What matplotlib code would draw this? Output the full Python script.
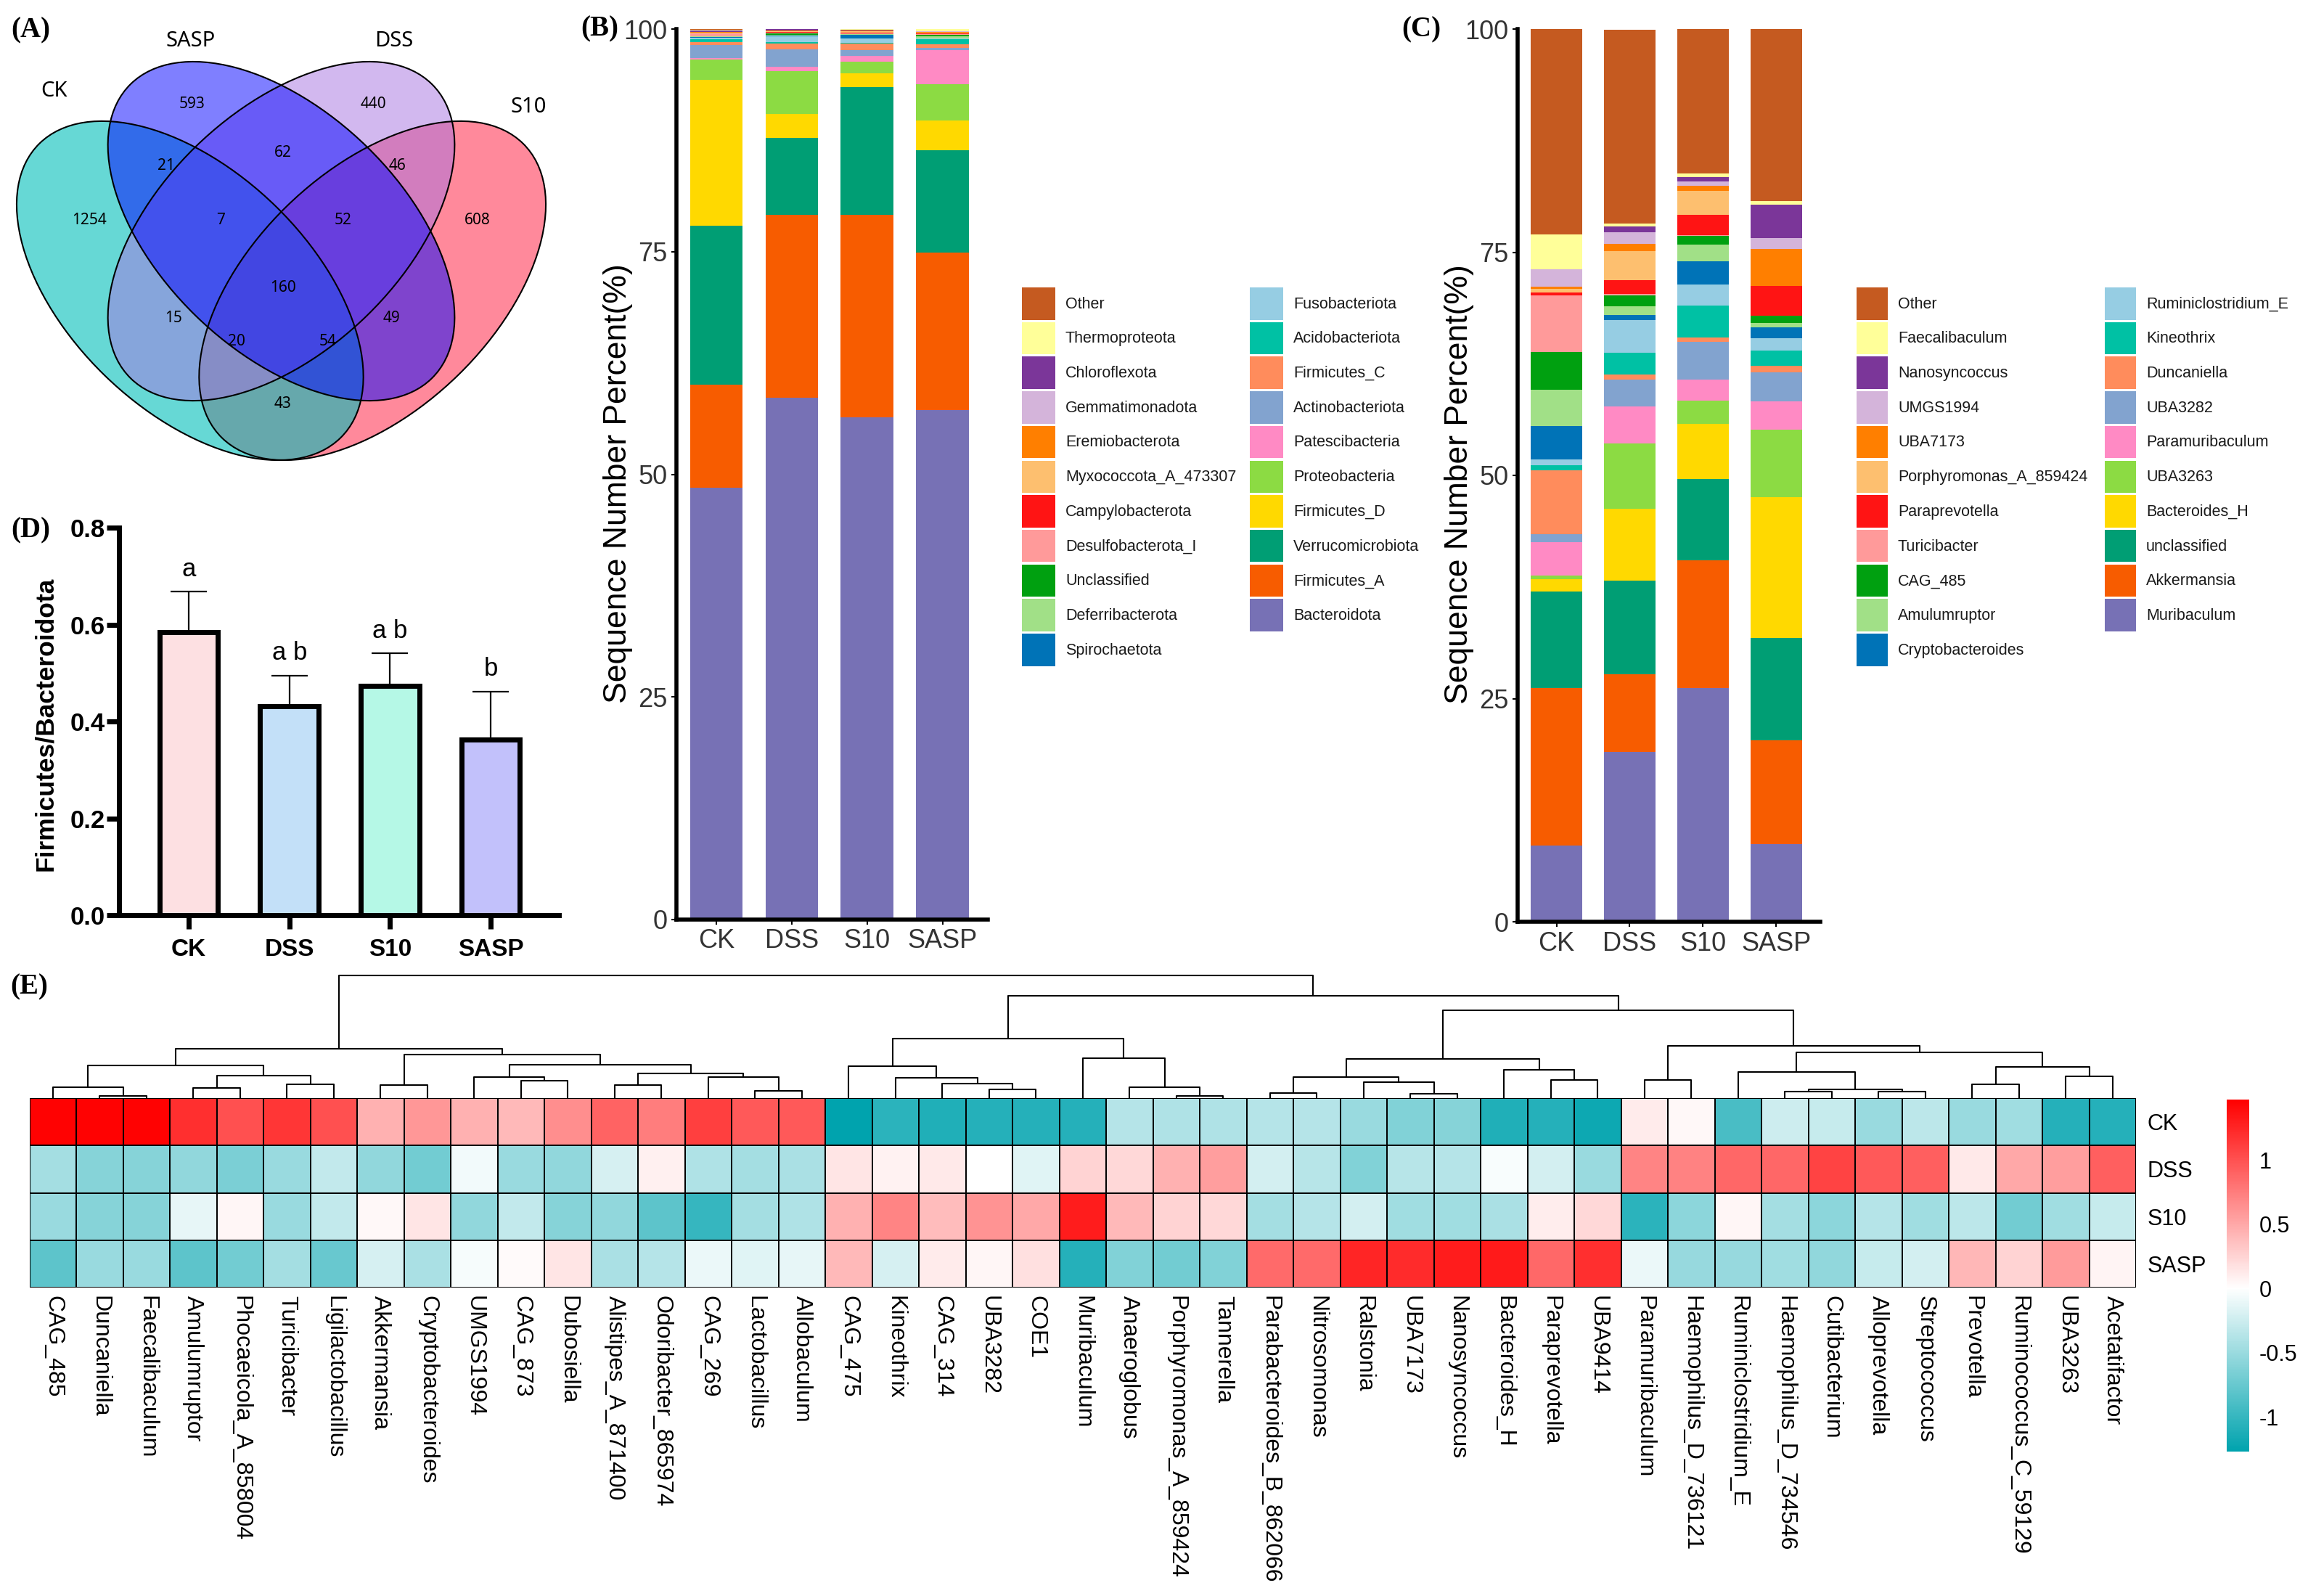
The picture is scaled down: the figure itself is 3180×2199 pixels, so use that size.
import numpy as np
import matplotlib
matplotlib.use("Agg")
import matplotlib.pyplot as plt
from matplotlib.patches import Ellipse, Patch
from matplotlib.colors import LinearSegmentedColormap, Normalize
from matplotlib.cm import ScalarMappable

plt.rcParams['font.family'] = ['Liberation Sans', 'DejaVu Sans']

W, H = 3180, 2199

# ---------------- data ----------------
groups = ['CK', 'DSS', 'S10', 'SASP']

# (A) venn
venn_names = ['CK', 'SASP', 'DSS', 'S10']
venn_counts = [1254, 593, 440, 608, 21, 62, 46, 7, 52, 160, 15, 49, 20, 54, 43]

# (B) phylum level, legend order (top of stack first)
phyla = ['Other', 'Thermoproteota', 'Chloroflexota', 'Gemmatimonadota', 'Eremiobacterota',
         'Myxococcota_A_473307', 'Campylobacterota', 'Desulfobacterota_I', 'Unclassified',
         'Deferribacterota', 'Spirochaetota', 'Fusobacteriota', 'Acidobacteriota', 'Firmicutes_C',
         'Actinobacteriota', 'Patescibacteria', 'Proteobacteria', 'Firmicutes_D',
         'Verrucomicrobiota', 'Firmicutes_A', 'Bacteroidota']
phy_CK = [0.2, 0.05, 0.15, 0.05, 0.05, 0.05, 0.05, 0.3, 0.05, 0.05, 0.05,
          0.2, 0.3, 0.35, 1.5, 0.1, 2.3, 16.4, 17.8, 11.6, 48.5]
phy_DSS = [0.05, 0.05, 0.15, 0.05, 0.05, 0.05, 0.1, 0.05, 0.2, 0.05, 0.1,
           0.7, 0.1, 0.7, 1.9, 0.5, 4.8, 2.7, 8.7, 20.5, 58.6]
phy_S10 = [0.05, 0.15, 0.05, 0.05, 0.05, 0.15, 0.05, 0.1, 0.05, 0.05, 0.4,
           0.5, 0.1, 0.7, 0.7, 0.65, 1.3, 1.5, 14.4, 22.7, 56.4]
phy_SASP = [0.05, 0.2, 0.05, 0.05, 0.05, 0.1, 0.05, 0.15, 0.1, 0.27, 0.05,
            0.05, 0.55, 0.4, 0.3, 3.8, 4.1, 3.3, 11.5, 17.7, 57.2]

# (C) genus level, legend order (top of stack first)
genera = ['Other', 'Faecalibaculum', 'Nanosyncoccus', 'UMGS1994', 'UBA7173',
          'Porphyromonas_A_859424', 'Paraprevotella', 'Turicibacter', 'CAG_485', 'Amulumruptor',
          'Cryptobacteroides', 'Ruminiclostridium_E', 'Kineothrix', 'Duncaniella', 'UBA3282',
          'Paramuribaculum', 'UBA3263', 'Bacteroides_H', 'unclassified', 'Akkermansia', 'Muribaculum']
gen_CK = [23.0, 3.9, 0.05, 1.9, 0.25, 0.45, 0.3, 6.3, 4.25, 4.1, 3.7,
          0.7, 0.5, 7.2, 0.9, 3.7, 0.4, 1.4, 10.8, 17.7, 8.5]
gen_DSS = [21.75, 0.3, 0.65, 1.3, 0.8, 3.25, 1.55, 0.15, 1.25, 0.95, 0.6,
           3.7, 2.4, 0.55, 3.0, 4.2, 7.3, 8.0, 10.5, 8.75, 19.0]
gen_S10 = [16.25, 0.35, 0.5, 0.5, 0.6, 2.7, 2.25, 0.05, 1.0, 1.9, 2.6,
           2.35, 3.55, 0.45, 4.3, 2.3, 2.6, 6.2, 9.1, 14.3, 26.2]
gen_SASP = [19.25, 0.45, 3.7, 1.2, 4.15, 0.05, 3.3, 0.05, 0.8, 0.5, 1.15,
            1.45, 1.65, 0.75, 3.25, 3.2, 7.5, 15.8, 11.5, 11.6, 8.7]

# (D) Firmicutes / Bacteroidota
fb_mean = [0.584, 0.432, 0.474, 0.362]
fb_err = [0.084, 0.063, 0.067, 0.100]
fb_sig = ['a', 'a b', 'a b', 'b']

# (E) heatmap (column z-scores)
taxa = ['CAG_485', 'Duncaniella', 'Faecalibaculum', 'Amulumruptor', 'Phocaeicola_A_858004',
        'Turicibacter', 'Ligilactobacillus', 'Akkermansia', 'Cryptobacteroides', 'UMGS1994',
        'CAG_873', 'Dubosiella', 'Alistipes_A_871400', 'Odoribacter_865974', 'CAG_269',
        'Lactobacillus', 'Allobaculum', 'CAG_475', 'Kineothrix', 'CAG_314', 'UBA3282', 'COE1',
        'Muribaculum', 'Anaeroglobus', 'Porphyromonas_A_859424', 'Tannerella',
        'Parabacteroides_B_862066', 'Nitrosomonas', 'Ralstonia', 'UBA7173', 'Nanosyncoccus',
        'Bacteroides_H', 'Paraprevotella', 'UBA9414', 'Paramuribaculum', 'Haemophilus_D_736121',
        'Ruminiclostridium_E', 'Haemophilus_D_734546', 'Cutibacterium', 'Alloprevotella',
        'Streptococcus', 'Prevotella', 'Ruminococcus_C_59129', 'UBA3263', 'Acetatifactor']
hm_CK = [1.45, 1.45, 1.45, 1.2, 1.0, 1.15, 1.0, 0.45, 0.6, 0.45, 0.4, 0.65, 0.9, 0.75, 1.1, 0.95, 0.95,
         -1.27, -1.05, -1.1, -1.08, -1.08, -1.08, -0.37, -0.4, -0.4, -0.37, -0.37, -0.5, -0.62, -0.6,
         -1.1, -1.08, -1.2,
         0.12, 0.04, -0.9, -0.25, -0.28, -0.5, -0.33, -0.5, -0.47, -1.08, -1.08]
hm_DSS = [-0.45, -0.6, -0.6, -0.55, -0.65, -0.5, -0.3, -0.55, -0.7, -0.07, -0.5, -0.55, -0.2, 0.08,
          -0.4, -0.45, -0.42,
          0.15, 0.07, 0.13, 0.0, -0.15, 0.25, 0.22, 0.45, 0.55, -0.22, -0.35, -0.62, -0.35, -0.37,
          -0.03, -0.22, -0.5,
          0.7, 0.72, 0.88, 0.88, 1.08, 0.95, 0.92, 0.13, 0.5, 0.55, 0.92]
hm_S10 = [-0.5, -0.6, -0.6, -0.12, 0.05, -0.5, -0.3, 0.04, 0.15, -0.55, -0.3, -0.6, -0.55, -0.8,
          -1.0, -0.45, -0.4,
          0.45, 0.7, 0.38, 0.62, 0.5, 1.3, 0.4, 0.25, 0.22, -0.45, -0.37, -0.22, -0.47, -0.47,
          -0.42, 0.1, 0.22,
          -1.05, -0.57, 0.05, -0.45, -0.57, -0.37, -0.47, -0.33, -0.7, -0.47, -0.28]
hm_SASP = [-0.8, -0.5, -0.5, -0.8, -0.7, -0.45, -0.75, -0.2, -0.42, -0.04, 0.03, 0.15, -0.42, -0.37,
           -0.1, -0.15, -0.12,
           0.4, -0.2, 0.12, 0.05, 0.18, -1.08, -0.62, -0.7, -0.62, 0.85, 0.85, 1.25, 1.22, 1.3,
           1.32, 0.87, 1.2,
           -0.1, -0.52, -0.52, -0.47, -0.55, -0.28, -0.22, 0.42, 0.25, 0.58, 0.06]

# column dendrogram: (left, right, height); new clusters numbered from 45 on
merges = [(1, 2, 3), (0, 45, 14.7), (3, 4, 13.7), (5, 6, 18.7), (47, 48, 31.3), (46, 49, 44.7),
          (7, 8, 17.7), (10, 11, 24), (9, 52, 29), (12, 13, 17.7), (15, 16, 10.3), (14, 55, 28.7),
          (54, 56, 33.7), (53, 57, 46.3), (51, 58, 59.7), (50, 59, 68),
          (20, 21, 12.3), (19, 61, 20.3), (18, 62, 28), (17, 63, 43.7), (24, 25, 3), (23, 65, 14.7),
          (22, 66, 55.3), (64, 67, 82),
          (26, 27, 7), (29, 30, 5.7), (28, 70, 22), (69, 71, 28.7), (32, 33, 25.3), (31, 73, 38.7),
          (72, 74, 53.7), (34, 35, 25.3), (37, 38, 8.7), (39, 40, 8.7), (77, 78, 12.3),
          (36, 79, 36.3), (41, 42, 18.7), (43, 44, 30.3), (81, 82, 43), (80, 83, 63),
          (76, 84, 72), (75, 85, 121.3), (68, 86, 140.7), (60, 87, 169)]

palette = ['#C55A20', '#FFFF99', '#7B3699', '#D4B4DA', '#FF7F00', '#FDBF6F', '#FF1414',
           '#FF9A9A', '#00A010', '#A1E087', '#0073B7', '#96CDE3', '#00C1A4', '#FF8C5C',
           '#82A3CF', '#FF8AC4', '#8CDB43', '#FFD900', '#009E74', '#F75C00', '#7771B5']


fig = plt.figure(figsize=(W / 100, H / 100), dpi=100)


def box(x0, y0, x1, y1):
    return [x0 / W, 1 - y1 / H, (x1 - x0) / W, (y1 - y0) / H]


def tag(x, y, s):
    fig.text(x / W, 1 - y / H, s, fontsize=28, fontweight='bold',
             family='Liberation Serif', va='center', ha='left')


# ---------------- (A) venn ----------------
ax = fig.add_axes(box(23, 85, 752, 634))
ax.set_xlim(0.065, 0.935)
ax.set_ylim(0.185, 0.855)
ax.axis('off')
ell = {'CK': (0.35, 0.47, -45, '#00BEB9', 0.6), 'SASP': (0.5, 0.57, -45, '#0000FF', 0.5),
       'DSS': (0.5, 0.57, 45, '#A773E1', 0.5), 'S10': (0.65, 0.47, 45, '#FF1539', 0.5)}
for nm in ['S10', 'CK', 'DSS', 'SASP']:
    x, y, a, c, al = ell[nm]
    ax.add_patch(Ellipse((x, y), 0.7, 0.4, angle=a, facecolor=c, alpha=al,
                         edgecolor='none', clip_on=False))
for nm in venn_names:
    x, y, a, c, al = ell[nm]
    ax.add_patch(Ellipse((x, y), 0.7, 0.4, angle=a, facecolor='none',
                         edgecolor='black', lw=1.5, clip_on=False))
name_xy = [(0.126, 0.806), (0.351, 0.890), (0.685, 0.890), (0.907, 0.779)]
for nm, (x, y) in zip(venn_names, name_xy):
    ax.text(x, y, nm, fontsize=21, family='Noto Sans', ha='center', va='center')
count_xy = [(0.184, 0.588), (0.353, 0.783), (0.652, 0.783), (0.822, 0.588), (0.311, 0.680),
            (0.503, 0.702), (0.691, 0.680), (0.401, 0.588), (0.602, 0.588), (0.503, 0.475),
            (0.323, 0.424), (0.681, 0.424), (0.427, 0.384), (0.577, 0.384), (0.503, 0.280)]
for n, (x, y) in zip(venn_counts, count_xy):
    ax.text(x, y, str(n), fontsize=15, family='Noto Sans', ha='center', va='center')
tag(15, 42, '(A)')


# ---------------- (B) / (C) stacked bars ----------------
def stacked(rect, names, table, ylab_x, leg_x1, leg_x2, sq):
    ax = fig.add_axes(box(*rect))
    x = np.arange(1, 5)
    bottom = np.zeros(4)
    for i in range(len(names) - 1, -1, -1):
        v = np.array([table[g][i] for g in groups])
        ax.bar(x, v, 0.7, bottom=bottom, color=palette[i], linewidth=0)
        bottom += v
    ax.set_xlim(0.47, 4.6)
    ax.set_ylim(0, 100)
    ax.set_yticks([0, 25, 50, 75, 100])
    ax.set_xticks(x)
    ax.set_xticklabels(groups)
    for s in ['top', 'right']:
        ax.spines[s].set_visible(False)
    for s in ['left', 'bottom']:
        ax.spines[s].set_linewidth(4)
    ax.tick_params(labelsize=26, labelcolor='#333333', length=5, width=1.5, pad=4)
    ax.set_ylabel('Sequence Number Percent(%)', fontsize=32)
    ax.yaxis.set_label_coords(ylab_x, 0.49)
    fs = 15.5
    fpx = fs * 100 / 72
    # legend patch height = fs * (0.65 * handleheight + 0.245)
    hh = (44.5 / fpx - 0.245) / 0.65
    for idx, lx in ((range(0, 11), leg_x1), (range(11, len(names)), leg_x2)):
        hd = [Patch(facecolor=palette[i], label=names[i]) for i in idx]
        fig.legend(handles=hd, loc='upper left', bbox_to_anchor=(lx / W, 1 - 396 / H),
                   frameon=False, borderpad=0, borderaxespad=0, fontsize=fs,
                   handlelength=sq / fpx, handleheight=hh,
                   labelspacing=3.2 / fpx, handletextpad=0.65, labelcolor='#1A1A1A')
    return ax


phy_table = {'CK': phy_CK, 'DSS': phy_DSS, 'S10': phy_S10, 'SASP': phy_SASP}
gen_table = {'CK': gen_CK, 'DSS': gen_DSS, 'S10': gen_S10, 'SASP': gen_SASP}
stacked((932, 40, 1361, 1267), phyla, phy_table, -0.139, 1408, 1722, 46)
stacked((2091, 40, 2508, 1270), genera, gen_table, -0.144, 2558, 2900, 43)
tag(800, 40, '(B)')
tag(1931, 41, '(C)')

# ---------------- (D) F/B ratio ----------------
ax = fig.add_axes(box(164, 727, 770, 1261))
xd = np.arange(4)
ax.errorbar(xd, fb_mean, yerr=[np.zeros(4), fb_err], fmt='none', ecolor='black',
            elinewidth=1.6, capsize=18, capthick=1.6, zorder=1)
ax.bar(xd, fb_mean, 0.58, color=['#FDE0E2', '#C3E0F8', '#B5F8E6', '#C2C1FB'],
       edgecolor='black', linewidth=5, zorder=2)
for i in range(4):
    ax.text(xd[i], fb_mean[i] + fb_err[i] + 0.032, fb_sig[i], ha='center', va='baseline',
            fontsize=25)
ax.set_xlim(-0.692, 3.677)
ax.set_ylim(0, 0.8)
ax.set_yticks([0, 0.2, 0.4, 0.6, 0.8])
ax.set_yticklabels(['0.0', '0.2', '0.4', '0.6', '0.8'])
ax.set_xticks(xd)
ax.set_xticklabels(groups)
for s in ['top', 'right']:
    ax.spines[s].set_visible(False)
for s in ['left', 'bottom']:
    ax.spines[s].set_linewidth(5)
ax.tick_params(axis='y', length=12, width=5, pad=2, labelsize=25)
ax.tick_params(axis='x', length=14, width=5, pad=9, labelsize=24)
for t in ax.get_xticklabels() + ax.get_yticklabels():
    t.set_fontweight('bold')
ax.set_ylabel('Firmicutes/Bacteroidota', fontsize=25.5, fontweight='bold')
ax.yaxis.set_label_coords(-0.14, 0.494)
tag(15, 731, '(D)')

# ---------------- (E) heatmap ----------------
n = len(taxa)
hm = np.array([hm_CK, hm_DSS, hm_S10, hm_SASP])
cmap = LinearSegmentedColormap.from_list('tw', [(0, '#00A3AE'), (1.27 / 2.74, '#FFFFFF'),
                                                (1, '#FF0000')])
norm = Normalize(-1.27, 1.47)

axd = fig.add_axes(box(40.7, 1344, 2943, 1513))
pos = {i: i + 0.5 for i in range(n)}
hgt = {i: 0.0 for i in range(n)}
for k, (a, b, h) in enumerate(merges):
    axd.plot([pos[a], pos[a], pos[b], pos[b]], [hgt[a], h, h, hgt[b]], color='black',
             lw=1.5, solid_capstyle='butt', clip_on=False)
    pos[n + k] = (pos[a] + pos[b]) / 2
    hgt[n + k] = h
axd.set_xlim(0, n)
axd.set_ylim(0, 169)
axd.axis('off')

axh = fig.add_axes(box(40.7, 1513, 2943, 1774))
axh.pcolormesh(hm, cmap=cmap, norm=norm, edgecolors='black', linewidth=1.4)
axh.set_xlim(0, n)
axh.set_ylim(4, 0)
for s in axh.spines.values():
    s.set_visible(False)
axh.set_xticks(np.arange(n) + 0.5)
axh.set_xticklabels(taxa, rotation=-90, ha='center', va='top', fontsize=23)
axh.yaxis.tick_right()
axh.set_yticks(np.arange(4) + 0.5)
axh.set_yticklabels(groups, fontsize=22)
axh.tick_params(length=0)
axh.tick_params(axis='x', pad=8)
axh.tick_params(axis='y', pad=11)

cax = fig.add_axes(box(3068, 1515, 3099, 2000))
cb = fig.colorbar(ScalarMappable(norm=norm, cmap=cmap), cax=cax)
cb.outline.set_visible(False)
cb.set_ticks([1, 0.5, 0, -0.5, -1])
cb.set_ticklabels(['1', '0.5', '0', '-0.5', '-1'])
cax.tick_params(length=0, labelsize=22, pad=10)
tag(14, 1360, '(E)')

fig.savefig('out.png', dpi=100)
